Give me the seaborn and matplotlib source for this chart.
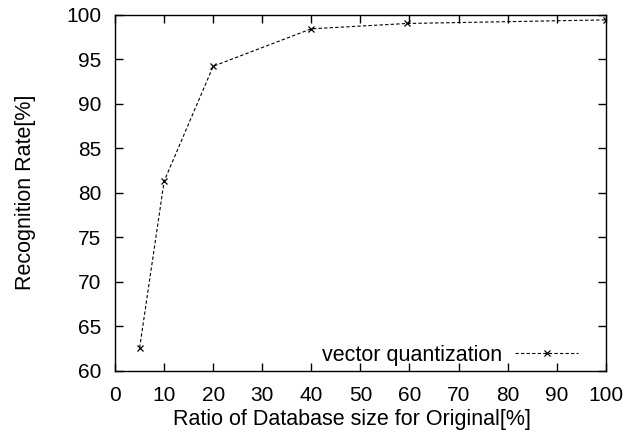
import numpy as np
import pandas as pd
import matplotlib
matplotlib.use("Agg")
import matplotlib.pyplot as plt
import seaborn as sns

ratio = [5, 10, 20, 40, 59.6, 100]
rate = [62.6, 81.3, 94.2, 98.4, 99.0, 99.4]
series = "vector quantization"
x_ticks = list(range(0, 101, 10))
y_ticks = list(range(60, 101, 5))

df = pd.DataFrame({"ratio": ratio, "rate": rate, "method": series})

sns.set_style("ticks")
plt.rcParams['font.family'] = ['Liberation Sans', 'DejaVu Sans']
plt.rcParams['text.color'] = 'black'
plt.rcParams['axes.labelcolor'] = 'black'
plt.rcParams['xtick.color'] = 'black'
plt.rcParams['ytick.color'] = 'black'

fig = plt.figure(figsize=(6.43, 4.41), dpi=100)
ax = fig.add_axes([0.179, 0.159, 0.763, 0.808])

sns.lineplot(data=df, x="ratio", y="rate", hue="method", palette=["black"],
             marker="x", markersize=5, markeredgewidth=0.9,
             markeredgecolor="black", linewidth=0.8,
             dashes=False, linestyle=(0, (3, 2)), ax=ax)

ax.set_xlim(0, 100)
ax.set_ylim(60, 100)
ax.set_xticks(x_ticks)
ax.set_yticks(y_ticks)
ax.tick_params(direction="in", length=6, width=1, labelsize=15,
               top=True, right=True)
ax.tick_params(axis="x", pad=11)
ax.tick_params(axis="y", pad=10)
for s in ax.spines.values():
    s.set_visible(True)
    s.set_linewidth(1)
    s.set_color("black")
ax.set_xlabel("Ratio of Database size for Original[%]", fontsize=15.5, labelpad=3)
ax.xaxis.label.set_x(0.483)
ax.set_ylabel("Recognition Rate[%]", fontsize=15.5, labelpad=22)

ax.legend(loc="center right", bbox_to_anchor=(0.943, 0.044), frameon=False,
          markerfirst=False, fontsize=15.5, handlelength=2.9,
          handletextpad=0.6, borderpad=0, borderaxespad=0)

fig.savefig("out.png", dpi=100)
